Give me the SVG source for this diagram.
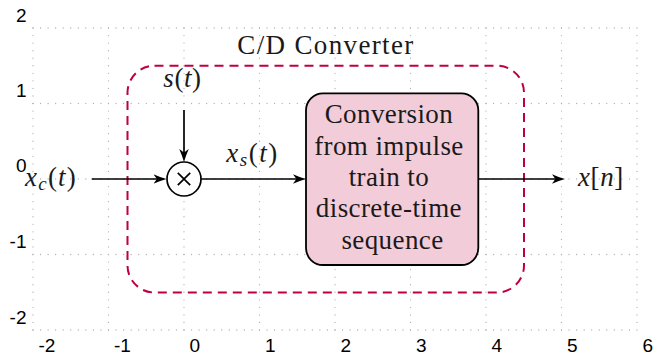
<svg xmlns="http://www.w3.org/2000/svg" width="658" height="360" viewBox="0 0 658 360">
<style>
.grid{stroke:#b0b0b0;stroke-width:1.3;stroke-linecap:round;stroke-dasharray:0 7.55;fill:none}
.wire{stroke:#000;stroke-width:1.7;fill:none}
.i{font-style:italic}
</style>
<defs>
<marker id="ah" viewBox="0 0 13 10" refX="10" refY="5" markerWidth="13" markerHeight="10" markerUnits="userSpaceOnUse" orient="auto">
<path d="M0,0.2 Q6,3 13,5 Q6,7 0,9.8 L3.4,5 Z" fill="#000"/>
</marker>
</defs>
<g id="grid">
<path class="grid" d="M33,28V330.5M108.5,28V330.5M184,28V330.5M259.5,28V330.5M335,28V330.5M410.5,28V330.5M486,28V330.5M561.5,28V330.5M637,28V330.5"/>
<path class="grid" d="M33,28H637M33,103.5H637M33,179H637M33,254.5H637M33,330H637"/>
</g>
<g id="axis-labels" font-family="'Liberation Sans', Arial, sans-serif" font-size="19" fill="#000">
<text x="38.5" y="352">-2</text>
<text x="114" y="352">-1</text>
<text x="189.5" y="352">0</text>
<text x="265" y="352">1</text>
<text x="340.5" y="352">2</text>
<text x="416" y="352">3</text>
<text x="491.5" y="352">4</text>
<text x="567" y="352">5</text>
<text x="642.5" y="352">6</text>
<text x="26.5" y="21.5" text-anchor="end">2</text>
<text x="26.5" y="96.5" text-anchor="end">1</text>
<text x="26.5" y="172" text-anchor="end">0</text>
<text x="26.5" y="248" text-anchor="end">-1</text>
<text x="26.5" y="323.5" text-anchor="end">-2</text>
</g>
<g id="cd-converter">
<rect x="127.5" y="65.7" width="396.5" height="226.8" rx="27" ry="27" fill="none" stroke="#BF0040" stroke-width="2" stroke-dasharray="9 6"/>
<text font-family="'Liberation Serif', 'Times New Roman', serif" font-size="27" fill="#1a1a1a" x="325.3" y="54" text-anchor="middle" textLength="176" lengthAdjust="spacing">C/D Converter</text>
</g>
<g id="multiplier">
<circle cx="184" cy="179" r="17" fill="#fff" stroke="#000" stroke-width="1.7"/>
<path d="M177.8,172.8L190.2,185.2M190.2,172.8L177.8,185.2" stroke="#000" stroke-width="1.7"/>
</g>
<g id="conversion-block">
<rect x="306" y="93.3" width="172.3" height="171.7" rx="17" ry="17" fill="#F2CCD9" stroke="#000" stroke-width="1.8"/>
<text font-family="'Liberation Serif', 'Times New Roman', serif" font-size="27" fill="#1a1a1a" text-anchor="middle" letter-spacing="0.4">
<tspan x="392.5" y="123">Conversion</tspan>
<tspan x="392.5" y="154.5">from impulse</tspan>
<tspan x="392.5" y="186">train to</tspan>
<tspan x="392.5" y="217.3">discrete-time</tspan>
<tspan x="392.5" y="248.5">sequence</tspan>
</text>
</g>
<g id="connectors">
<path class="wire" d="M91.7,179H163.5" marker-end="url(#ah)"/>
<path class="wire" d="M184,110V159" marker-end="url(#ah)"/>
<path class="wire" d="M201,179H303" marker-end="url(#ah)"/>
<path class="wire" d="M478.3,179H562" marker-end="url(#ah)"/>
</g>
<g id="labels" font-family="'Liberation Serif', 'Times New Roman', serif" font-size="27" fill="#1a1a1a">
<text x="77" y="185.5" text-anchor="end" letter-spacing="1.2"><tspan class="i">x</tspan><tspan class="i" font-size="19" dy="4">c</tspan><tspan dy="-4">(</tspan><tspan class="i">t</tspan>)</text>
<text x="182.5" y="87" text-anchor="middle" letter-spacing="0.6"><tspan class="i">s</tspan>(<tspan class="i">t</tspan>)</text>
<text x="252.5" y="161.5" text-anchor="middle" letter-spacing="1.5"><tspan class="i">x</tspan><tspan class="i" font-size="19" dy="4">s</tspan><tspan dy="-4">(</tspan><tspan class="i">t</tspan>)</text>
<text x="578" y="185.5" letter-spacing="0.6"><tspan class="i">x</tspan>[<tspan class="i">n</tspan>]</text>
</g>
</svg>
